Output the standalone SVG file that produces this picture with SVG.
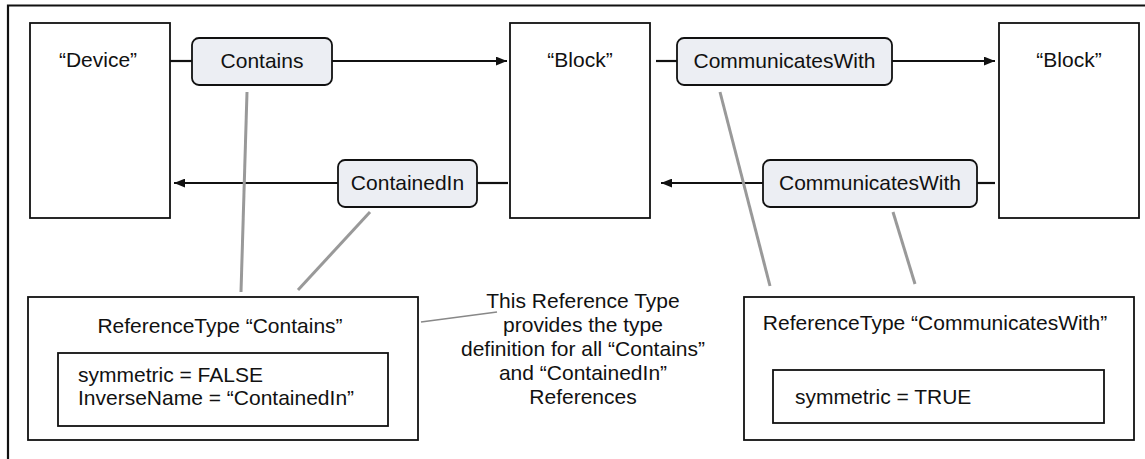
<svg xmlns="http://www.w3.org/2000/svg" width="1145" height="459" viewBox="0 0 1145 459">
<style>
text{font-family:"Liberation Sans",Arial,sans-serif;font-size:21px;fill:#111}
.c{text-anchor:middle}
.box{fill:#fff;stroke:#111;stroke-width:1.8}
.pill{fill:#eceef3;stroke:#111;stroke-width:1.8}
.con{stroke:#111;stroke-width:2.2;fill:none}
.gl{stroke:#999;stroke-width:3;fill:none}
.gt{stroke:#888;stroke-width:1.6;fill:none}
</style>
<defs>
<marker id="ah" viewBox="0 0 10 8" refX="10" refY="4" markerWidth="11" markerHeight="9" markerUnits="userSpaceOnUse" orient="auto">
<path d="M0,0 L10,4 L0,8 z" fill="#111"/>
</marker>
</defs>
<rect width="1145" height="459" fill="#fff"/>
<g id="frame"><path d="M8,459 V5.5 H1145" class="con"/></g>
<g id="connectors">
<line x1="170" y1="61" x2="192" y2="61" class="con"/>
<line x1="332" y1="61" x2="507" y2="61" class="con" marker-end="url(#ah)"/>
<line x1="477" y1="183" x2="508" y2="183" class="con"/>
<line x1="338" y1="183" x2="174" y2="183" class="con" marker-end="url(#ah)"/>
<line x1="656" y1="61" x2="677" y2="61" class="con"/>
<line x1="892" y1="61" x2="995" y2="61" class="con" marker-end="url(#ah)"/>
<line x1="977" y1="183" x2="995" y2="183" class="con"/>
<line x1="763" y1="183" x2="661" y2="183" class="con" marker-end="url(#ah)"/>
<line x1="247" y1="92" x2="241" y2="292" class="gl"/>
<line x1="370" y1="212" x2="298" y2="290" class="gl"/>
<line x1="720" y1="92" x2="770" y2="286" class="gl"/>
<line x1="893" y1="212" x2="915" y2="284" class="gl"/>
<line x1="421" y1="322" x2="497" y2="312" class="gt"/>
</g>
<g id="device"><rect x="30" y="23" width="140" height="195" class="box"/><text x="98" y="67" class="c">“Device”</text></g>
<g id="block1"><rect x="510" y="23" width="140" height="195" class="box"/><text x="580" y="67" class="c">“Block”</text></g>
<g id="block2"><rect x="999" y="23" width="140" height="195" class="box"/><text x="1069" y="67" class="c">“Block”</text></g>
<g id="contains"><rect x="192" y="38" width="140" height="47" rx="7" class="pill"/><text x="262" y="68" class="c">Contains</text></g>
<g id="containedIn"><rect x="338" y="160" width="139" height="47" rx="7" class="pill"/><text x="407.5" y="190" class="c">ContainedIn</text></g>
<g id="commWith1"><rect x="677" y="38" width="215" height="47" rx="7" class="pill"/><text x="784.5" y="68" class="c">CommunicatesWith</text></g>
<g id="commWith2"><rect x="763" y="160" width="214" height="47" rx="7" class="pill"/><text x="870" y="190" class="c">CommunicatesWith</text></g>
<g id="refContains">
<rect x="28" y="297" width="390" height="143" class="box"/>
<text x="220" y="333" class="c">ReferenceType “Contains”</text>
<rect x="58" y="353" width="330" height="73" class="box"/>
<text x="78" y="382">symmetric = FALSE</text>
<text x="78" y="405">InverseName = “ContainedIn”</text>
</g>
<g id="note">
<text x="583" y="308" class="c">This Reference Type</text>
<text x="583" y="332" class="c">provides the type</text>
<text x="583" y="356" class="c">definition for all “Contains”</text>
<text x="583" y="380" class="c">and “ContainedIn”</text>
<text x="583" y="404" class="c">References</text>
</g>
<g id="refComm">
<rect x="744" y="297" width="390" height="143" class="box"/>
<text x="935" y="330" class="c">ReferenceType “CommunicatesWith”</text>
<rect x="773" y="370" width="331" height="53" class="box"/>
<text x="795" y="404">symmetric = TRUE</text>
</g>
</svg>
